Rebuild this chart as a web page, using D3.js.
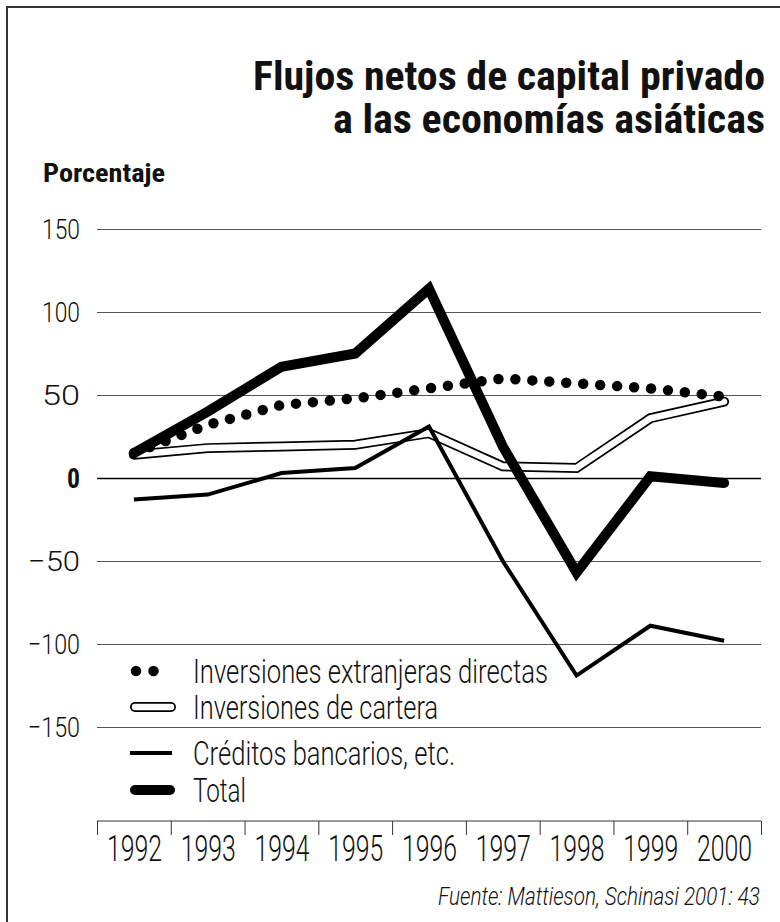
<!DOCTYPE html>
<html>
<head>
<meta charset="utf-8">
<script src="https://cdn.jsdelivr.net/npm/d3@7"></script>
<style>
  body { margin: 0; background: #fff; }
  svg text { font-family: "Liberation Sans Narrow", "Roboto Condensed", Roboto, sans-serif; fill: #111; }
  svg text.light { font-family: Roboto, sans-serif; font-weight: 300; }
</style>
</head>
<body>
<div id="chart"></div>
<script>
// values (percent)
var years = [1992, 1993, 1994, 1995, 1996, 1997, 1998, 1999, 2000]
var fdi = [15, 32, 44, 48, 54, 60, 57, 54, 49]
var portfolio = [14, 18, 19, 20, 27, 7, 6, 36, 46]
var bank = [-13, -10, 3, 6, 31, -50, -119, -89, -98]
var total = [15, 40, 67, 75, 114, 19, -57, 1, -3]
var yTicks = [-150, -100, -50, 0, 50, 100, 150]
var legendLabels = ['Inversiones extranjeras directas', 'Inversiones de cartera', 'Créditos bancarios, etc.', 'Total']

const width = 780
const height = 922

var svg = d3.select('#chart')
  .append('svg')
  .attr('width', width)
  .attr('height', height)

// frame (left and top only)
svg.append('path')
  .attr('d', 'M7,922 L7,7 L780,7')
  .attr('fill', 'none')
  .attr('stroke', '#333')
  .attr('stroke-width', 2)

// squeeze text into the width it has in the picture
function fit(sel, w) {
  sel.attr('textLength', w).attr('lengthAdjust', 'spacingAndGlyphs')
  return sel
}

fit(svg.append('text').text('Flujos netos de capital privado')
  .attr('x', 765).attr('y', 90).attr('text-anchor', 'end')
  .attr('font-size', 41).attr('font-weight', 'bold'), 512)
fit(svg.append('text').text('a las economías asiáticas')
  .attr('x', 765).attr('y', 133).attr('text-anchor', 'end')
  .attr('font-size', 41).attr('font-weight', 'bold'), 432)
fit(svg.append('text').text('Porcentaje')
  .attr('x', 43).attr('y', 182)
  .attr('font-size', 25).attr('font-weight', 'bold'), 122)

// scales
var x = d3.scaleLinear().domain([1991.5, 2000.5]).range([97, 761])
var y = d3.scaleLinear().domain([-150, 150]).range([727, 229])

// y axis with gridlines
var yAxis = d3.axisLeft(y)
  .tickValues(yTicks)
  .tickSize(-(761 - 97))
  .tickPadding(17)
  .tickFormat(d => d < 0 ? '\u2212' + Math.abs(d) : d)

var gy = svg.append('g')
  .attr('transform', 'translate(97,0)')
  .call(yAxis)
gy.select('.domain').remove()
gy.selectAll('.tick line')
  .attr('stroke', d => d == 0 ? '#000' : '#555')
  .attr('stroke-width', d => d == 0 ? 1.6 : 1)
gy.selectAll('.tick text')
  .attr('class', d => d == 0 ? null : 'light')
  .attr('font-size', 28)
  .attr('dy', '0.35em')
  .attr('font-weight', d => d == 0 ? 'bold' : null)
  .attr('fill', '#111')
  .attr('textLength', d => d == 0 ? 13 : (d < 0 ? 52 : 38))
  .attr('lengthAdjust', 'spacingAndGlyphs')

// x axis: ticks between the years, labels under the years
var xTickAxis = d3.axisBottom(x)
  .tickValues(d3.range(1991.5, 2001, 1))
  .tickSize(14)
  .tickFormat('')
var gx = svg.append('g')
  .attr('transform', 'translate(0,821)')
  .call(xTickAxis)
gx.select('.domain').attr('stroke', '#333').attr('d', 'M97,0H761')
gx.selectAll('.tick line').attr('stroke', '#333')

var xLabelAxis = d3.axisBottom(x)
  .tickValues(years)
  .tickSize(0)
  .tickPadding(0)
  .tickFormat(d3.format('d'))
var gxl = svg.append('g')
  .attr('transform', 'translate(0,861)')
  .call(xLabelAxis)
gxl.select('.domain').remove()
gxl.selectAll('.tick text')
  .attr('class', 'light')
  .attr('y', 0).attr('dy', 0)
  .attr('font-size', 36)
  .attr('fill', '#111')
  .attr('textLength', 55).attr('lengthAdjust', 'spacingAndGlyphs')

// lines
var line = d3.line()
  .x((d, i) => x(years[i]))
  .y(d => y(d))

var plot = svg.append('g')

plot.append('path').datum(portfolio)
  .attr('d', line).attr('fill', 'none')
  .attr('stroke', '#000').attr('stroke-width', 10)
  .attr('stroke-linecap', 'round').attr('stroke-linejoin', 'miter')
plot.append('path').datum(portfolio)
  .attr('d', line).attr('fill', 'none')
  .attr('stroke', '#fff').attr('stroke-width', 6.5)
  .attr('stroke-linecap', 'round').attr('stroke-linejoin', 'miter')

plot.append('path').datum(bank)
  .attr('d', line).attr('fill', 'none')
  .attr('stroke', '#000').attr('stroke-width', 4)
  .attr('stroke-linejoin', 'miter')

plot.append('path').datum(fdi)
  .attr('d', line).attr('fill', 'none')
  .attr('stroke', '#000').attr('stroke-width', 10.5)
  .attr('stroke-linecap', 'round')
  .attr('stroke-dasharray', '0 17')

plot.append('path').datum(total)
  .attr('d', line).attr('fill', 'none')
  .attr('stroke', '#000').attr('stroke-width', 10)
  .attr('stroke-linecap', 'round').attr('stroke-linejoin', 'miter')

// legend
var legY = [671, 707, 753, 790]
var legBase = [683, 719, 765, 802]
var legW = [355, 245, 262, 53]
var leg = svg.append('g')

leg.append('line')
  .attr('x1', 136).attr('x2', 171).attr('y1', legY[0]).attr('y2', legY[0])
  .attr('stroke', '#000').attr('stroke-width', 10.5)
  .attr('stroke-linecap', 'round').attr('stroke-dasharray', '0 17.5')
leg.append('line')
  .attr('x1', 135).attr('x2', 171).attr('y1', legY[1]).attr('y2', legY[1])
  .attr('stroke', '#000').attr('stroke-width', 10).attr('stroke-linecap', 'round')
leg.append('line')
  .attr('x1', 135).attr('x2', 171).attr('y1', legY[1]).attr('y2', legY[1])
  .attr('stroke', '#fff').attr('stroke-width', 6.5).attr('stroke-linecap', 'round')
leg.append('line')
  .attr('x1', 130).attr('x2', 172).attr('y1', legY[2]).attr('y2', legY[2])
  .attr('stroke', '#000').attr('stroke-width', 4)
leg.append('line')
  .attr('x1', 135).attr('x2', 170).attr('y1', legY[3]).attr('y2', legY[3])
  .attr('stroke', '#000').attr('stroke-width', 10).attr('stroke-linecap', 'round')

legendLabels.forEach(function (lab, i) {
  fit(leg.append('text').text(lab)
    .attr('class', 'light')
    .attr('x', 193).attr('y', legBase[i])
    .attr('font-size', 33), legW[i])
})

// source
fit(svg.append('text').text('Fuente: Mattieson, Schinasi 2001: 43')
  .attr('class', 'light')
  .attr('x', 760).attr('y', 905).attr('text-anchor', 'end')
  .attr('font-size', 25).attr('font-style', 'italic'), 322)
</script>
</body>
</html>
